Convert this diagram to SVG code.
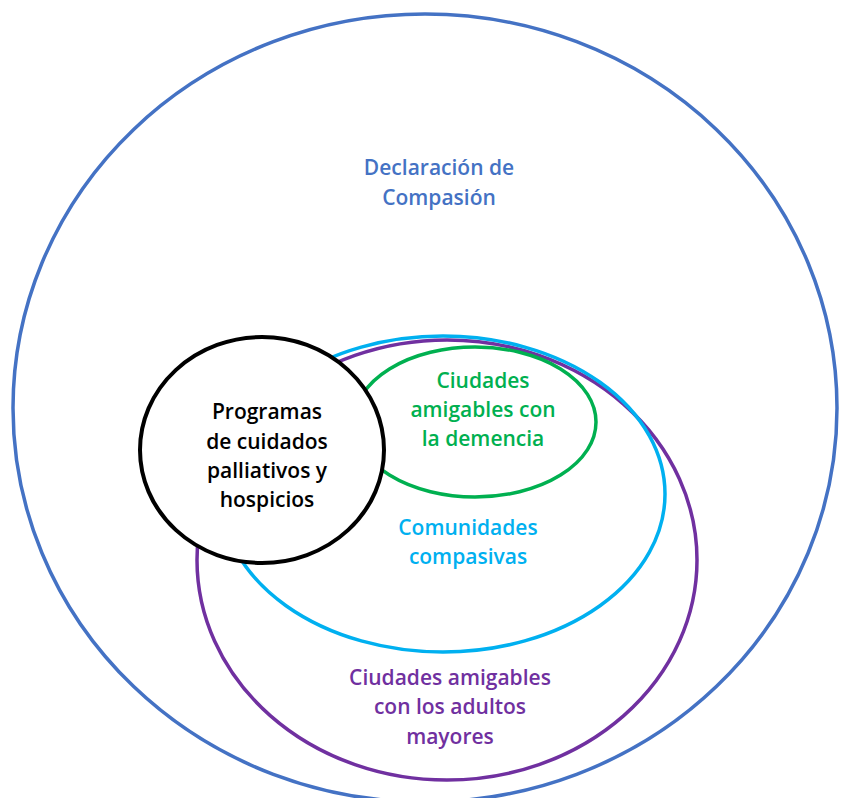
<svg xmlns="http://www.w3.org/2000/svg" width="844" height="798" viewBox="0 0 844 798">
<style>
.t{font-family:"Open Sans","Noto Sans","Liberation Sans",sans-serif;font-weight:600;font-size:21px;text-anchor:middle}
.o{fill:none;stroke-width:3.5}
</style>
<rect width="844" height="798" fill="#fff"/>
<g id="declaracion">
<ellipse class="o" cx="425" cy="408" rx="412" ry="394" stroke="#4472C4"/>
<text class="t" fill="#4472C4"><tspan x="439" y="175">Declaración de</tspan><tspan x="439" y="205">Compasión</tspan></text>
</g>
<g id="adultos">
<ellipse class="o" cx="447" cy="560" rx="250" ry="220" stroke="#7030A0"/>
<text class="t" fill="#7030A0"><tspan x="450" y="685">Ciudades amigables</tspan><tspan x="450" y="714">con los adultos</tspan><tspan x="450" y="744">mayores</tspan></text>
</g>
<g id="comunidades">
<ellipse class="o" cx="443" cy="494" rx="222" ry="158" stroke="#00B0F0"/>
<text class="t" fill="#00B0F0"><tspan x="468" y="535">Comunidades</tspan><tspan x="468" y="564">compasivas</tspan></text>
</g>
<g id="demencia">
<ellipse class="o" cx="475" cy="422" rx="121" ry="75" stroke="#00B050"/>
<text class="t" fill="#00B050"><tspan x="483" y="388">Ciudades</tspan><tspan x="483" y="417">amigables con</tspan><tspan x="483" y="446">la demencia</tspan></text>
</g>
<g id="paliativos">
<ellipse cx="262" cy="450" rx="122" ry="113" fill="#fff" stroke="#000" stroke-width="4"/>
<text class="t" fill="#000"><tspan x="267" y="419">Programas</tspan><tspan x="267" y="449">de cuidados</tspan><tspan x="267" y="478">palliativos y</tspan><tspan x="267" y="507">hospicios</tspan></text>
</g>
<g id="connectors"/>
</svg>
